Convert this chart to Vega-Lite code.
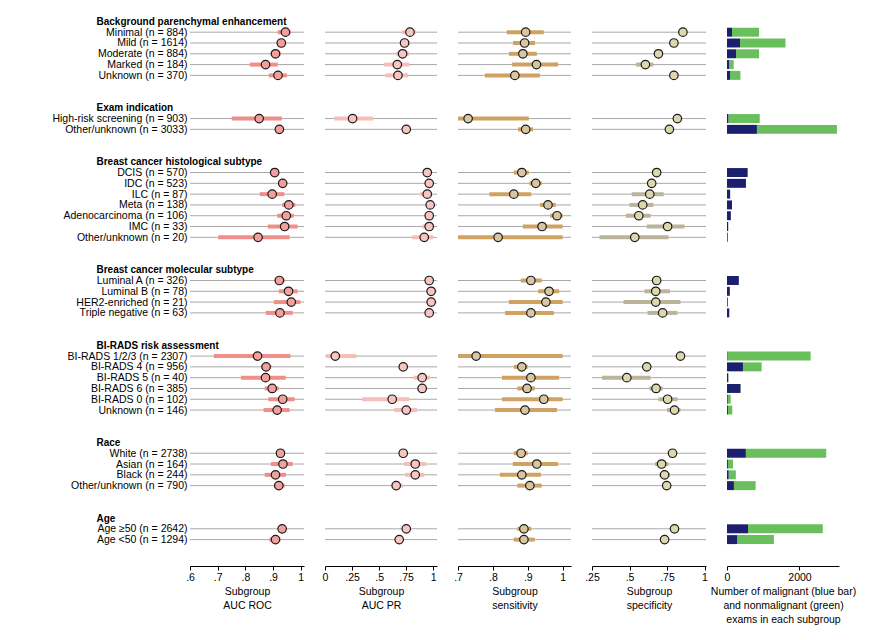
{
"$schema": "https://vega.github.io/schema/vega-lite/v6.json",
"padding": {"left": 51, "top": 16, "right": 5, "bottom": 5},
"bounds": "flush",
"spacing": 21,
"config": {
  "font": "Liberation Sans",
  "view": {"stroke": null},
  "axis": {"labelColor": "#000", "titleColor": "#000", "domainColor": "#000", "tickColor": "#000", "labelFontSize": 10.5, "titleFontSize": 10.5, "titleFontWeight": "normal", "grid": false},
  "axisX": {"offset": 21, "tickSize": 4, "labelPadding": 2, "titlePadding": 4, "labelFlush": false, "domainWidth": 1, "titleLineHeight": 14}
},
"data": {"values": [
{"label":"Minimal (n = 884)","roc":0.945,"rl":0.917,"rh":0.964,"pr":0.785,"pl":0.711,"ph":0.840,"se":0.894,"sl":0.840,"sh":0.946,"sp":0.856,"spl":0.848,"sph":0.864,"mal":138,"n":884},
{"label":"Mild (n = 1614)","roc":0.930,"rl":0.918,"rh":0.942,"pr":0.735,"pl":0.695,"ph":0.788,"se":0.891,"sl":0.858,"sh":0.921,"sp":0.796,"spl":0.789,"sph":0.803,"mal":358,"n":1614},
{"label":"Moderate (n = 884)","roc":0.909,"rl":0.892,"rh":0.928,"pr":0.717,"pl":0.658,"ph":0.778,"se":0.886,"sl":0.846,"sh":0.926,"sp":0.693,"spl":0.684,"sph":0.702,"mal":248,"n":884},
{"label":"Marked (n = 184)","roc":0.873,"rl":0.816,"rh":0.917,"pr":0.668,"pl":0.548,"ph":0.778,"se":0.925,"sl":0.855,"sh":0.987,"sp":0.606,"spl":0.542,"sph":0.659,"mal":55,"n":184},
{"label":"Unknown (n = 370)","roc":0.918,"rl":0.885,"rh":0.950,"pr":0.674,"pl":0.557,"ph":0.769,"se":0.863,"sl":0.777,"sh":0.935,"sp":0.796,"spl":0.774,"sph":0.825,"mal":83,"n":370},
{"label":"High-risk screening (n = 903)","roc":0.850,"rl":0.751,"rh":0.932,"pr":0.255,"pl":0.086,"ph":0.446,"se":0.729,"sl":0.700,"sh":0.903,"sp":0.819,"spl":0.812,"sph":0.826,"mal":37,"n":903},
{"label":"Other/unknown (n = 3033)","roc":0.923,"rl":0.914,"rh":0.932,"pr":0.751,"pl":0.735,"ph":0.767,"se":0.894,"sl":0.872,"sh":0.915,"sp":0.766,"spl":0.760,"sph":0.772,"mal":825,"n":3033},
{"label":"DCIS (n = 570)","roc":0.906,"rl":0.893,"rh":0.919,"pr":0.945,"pl":0.935,"ph":0.955,"se":0.883,"sl":0.860,"sh":0.903,"sp":0.681,"spl":0.665,"sph":0.700,"mal":570,"n":570},
{"label":"IDC (n = 523)","roc":0.935,"rl":0.925,"rh":0.945,"pr":0.963,"pl":0.955,"ph":0.971,"se":0.923,"sl":0.905,"sh":0.940,"sp":0.648,"spl":0.630,"sph":0.670,"mal":523,"n":523},
{"label":"ILC (n = 87)","roc":0.897,"rl":0.852,"rh":0.941,"pr":0.945,"pl":0.880,"ph":0.990,"se":0.860,"sl":0.790,"sh":0.910,"sp":0.635,"spl":0.515,"sph":0.728,"mal":87,"n":87},
{"label":"Meta (n = 138)","roc":0.957,"rl":0.933,"rh":0.981,"pr":0.972,"pl":0.940,"ph":0.990,"se":0.958,"sl":0.935,"sh":0.980,"sp":0.588,"spl":0.500,"sph":0.660,"mal":138,"n":138},
{"label":"Adenocarcinoma (n = 106)","roc":0.948,"rl":0.915,"rh":0.975,"pr":0.963,"pl":0.930,"ph":0.990,"se":0.984,"sl":0.964,"sh":1.0,"sp":0.562,"spl":0.476,"sph":0.641,"mal":106,"n":106},
{"label":"IMC (n = 33)","roc":0.942,"rl":0.881,"rh":0.989,"pr":0.963,"pl":0.900,"ph":0.998,"se":0.941,"sl":0.886,"sh":1.0,"sp":0.754,"spl":0.615,"sph":0.867,"mal":33,"n":33},
{"label":"Other/unknown (n = 20)","roc":0.846,"rl":0.702,"rh":0.960,"pr":0.917,"pl":0.806,"ph":1.0,"se":0.815,"sl":0.700,"sh":1.0,"sp":0.535,"spl":0.300,"sph":0.760,"mal":20,"n":20},
{"label":"Luminal A (n = 326)","roc":0.923,"rl":0.906,"rh":0.942,"pr":0.963,"pl":0.940,"ph":0.980,"se":0.909,"sl":0.880,"sh":0.940,"sp":0.681,"spl":0.650,"sph":0.710,"mal":326,"n":326},
{"label":"Luminal B (n = 78)","roc":0.956,"rl":0.921,"rh":0.989,"pr":0.981,"pl":0.950,"ph":0.995,"se":0.961,"sl":0.930,"sh":0.990,"sp":0.675,"spl":0.600,"sph":0.770,"mal":78,"n":78},
{"label":"HER2-enriched (n = 21)","roc":0.966,"rl":0.903,"rh":0.999,"pr":0.981,"pl":0.940,"ph":1.0,"se":0.952,"sl":0.846,"sh":1.0,"sp":0.675,"spl":0.460,"sph":0.840,"mal":21,"n":21},
{"label":"Triple negative (n = 63)","roc":0.925,"rl":0.874,"rh":0.971,"pr":0.963,"pl":0.930,"ph":0.990,"se":0.909,"sl":0.835,"sh":0.975,"sp":0.721,"spl":0.620,"sph":0.820,"mal":63,"n":63},
{"label":"BI-RADS 1/2/3 (n = 2307)","roc":0.844,"rl":0.686,"rh":0.963,"pr":0.095,"pl":0.010,"ph":0.290,"se":0.752,"sl":0.700,"sh":1.0,"sp":0.840,"spl":0.833,"sph":0.847,"mal":12,"n":2307},
{"label":"BI-RADS 4 (n = 956)","roc":0.875,"rl":0.857,"rh":0.894,"pr":0.723,"pl":0.680,"ph":0.760,"se":0.883,"sl":0.860,"sh":0.900,"sp":0.615,"spl":0.600,"sph":0.630,"mal":440,"n":956},
{"label":"BI-RADS 5 (n = 40)","roc":0.873,"rl":0.784,"rh":0.946,"pr":0.898,"pl":0.820,"ph":0.970,"se":0.909,"sl":0.826,"sh":0.990,"sp":0.482,"spl":0.316,"sph":0.640,"mal":35,"n":40},
{"label":"BI-RADS 6 (n = 385)","roc":0.897,"rl":0.870,"rh":0.921,"pr":0.898,"pl":0.850,"ph":0.940,"se":0.898,"sl":0.870,"sh":0.920,"sp":0.677,"spl":0.633,"sph":0.721,"mal":370,"n":385},
{"label":"BI-RADS 0 (n = 102)","roc":0.935,"rl":0.883,"rh":0.978,"pr":0.621,"pl":0.344,"ph":0.778,"se":0.946,"sl":0.826,"sh":1.0,"sp":0.754,"spl":0.693,"sph":0.820,"mal":20,"n":102},
{"label":"Unknown (n = 146)","roc":0.915,"rl":0.866,"rh":0.960,"pr":0.751,"pl":0.640,"ph":0.850,"se":0.892,"sl":0.806,"sh":0.984,"sp":0.800,"spl":0.750,"sph":0.840,"mal":25,"n":146},
{"label":"White (n = 2738)","roc":0.927,"rl":0.918,"rh":0.936,"pr":0.723,"pl":0.705,"ph":0.740,"se":0.881,"sl":0.860,"sh":0.900,"sp":0.787,"spl":0.780,"sph":0.795,"mal":520,"n":2738},
{"label":"Asian (n = 164)","roc":0.936,"rl":0.892,"rh":0.971,"pr":0.834,"pl":0.730,"ph":0.935,"se":0.926,"sl":0.857,"sh":0.987,"sp":0.714,"spl":0.670,"sph":0.760,"mal":25,"n":164},
{"label":"Black (n = 244)","roc":0.909,"rl":0.870,"rh":0.947,"pr":0.834,"pl":0.740,"ph":0.917,"se":0.883,"sl":0.820,"sh":0.938,"sp":0.734,"spl":0.700,"sph":0.770,"mal":45,"n":244},
{"label":"Other/unknown (n = 790)","roc":0.921,"rl":0.903,"rh":0.942,"pr":0.658,"pl":0.610,"ph":0.720,"se":0.906,"sl":0.870,"sh":0.940,"sp":0.748,"spl":0.720,"sph":0.770,"mal":190,"n":790},
{"label":"Age ≥50 (n = 2642)","roc":0.933,"rl":0.924,"rh":0.942,"pr":0.751,"pl":0.730,"ph":0.770,"se":0.889,"sl":0.870,"sh":0.910,"sp":0.800,"spl":0.790,"sph":0.810,"mal":580,"n":2642},
{"label":"Age <50 (n = 1294)","roc":0.909,"rl":0.887,"rh":0.927,"pr":0.686,"pl":0.640,"ph":0.720,"se":0.889,"sl":0.860,"sh":0.920,"sp":0.734,"spl":0.720,"sph":0.750,"mal":280,"n":1294}
]},
"hconcat": [
{
  "width": 114, "height": 529,
  "layer": [
    {"mark": {"type": "rule", "color": "#a8a8a8", "strokeWidth": 1},
     "encoding": {"x": {"datum": 0.6, "type": "quantitative"}, "x2": {"datum": 1.012}, "y": {"field": "label", "type": "nominal"}}},
    {"mark": {"type": "rule", "color": "#f08e8a", "strokeWidth": 4},
     "encoding": {"x": {"field": "rl", "type": "quantitative"}, "x2": {"field": "rh"}, "y": {"field": "label", "type": "nominal"}}},
    {"mark": {"type": "point", "filled": true, "fill": "#f2a09c", "stroke": "#1a1a1a", "strokeWidth": 1.2, "size": 72, "opacity": 1},
     "encoding": {"x": {"field": "roc", "type": "quantitative"}, "y": {"field": "label", "type": "nominal"}}}
  ],
  "encoding": {
    "x": {"scale": {"domain": [0.6, 1.012], "nice": false, "zero": false},
          "axis": {"values": [0.6, 0.7, 0.8, 0.9, 1], "title": ["Subgroup", "AUC ROC"], "labelExpr": "datum.value == 1 ? '1' : replace(format(datum.value, '.2~f'), '0.', '.')"}},
    "y": {"scale": {"type": "point", "padding": 0.5, "domain": ["Background parenchymal enhancement","Minimal (n = 884)","Mild (n = 1614)","Moderate (n = 884)","Marked (n = 184)","Unknown (n = 370)"," ","  ","Exam indication","High-risk screening (n = 903)","Other/unknown (n = 3033)","   ","    ","Breast cancer histological subtype","DCIS (n = 570)","IDC (n = 523)","ILC (n = 87)","Meta (n = 138)","Adenocarcinoma (n = 106)","IMC (n = 33)","Other/unknown (n = 20)","     ","      ","Breast cancer molecular subtype","Luminal A (n = 326)","Luminal B (n = 78)","HER2-enriched (n = 21)","Triple negative (n = 63)","       ","        ","BI-RADS risk assessment","BI-RADS 1/2/3 (n = 2307)","BI-RADS 4 (n = 956)","BI-RADS 5 (n = 40)","BI-RADS 6 (n = 385)","BI-RADS 0 (n = 102)","Unknown (n = 146)","         ","          ","Race","White (n = 2738)","Asian (n = 164)","Black (n = 244)","Other/unknown (n = 790)","           ","            ","Age","Age ≥50 (n = 2642)","Age <50 (n = 1294)"]},
          "axis": {"title": null, "domain": false, "ticks": false, "labelLimit": 0,
                   "labelFontSize": {"condition": {"test": "indexof(['Background parenchymal enhancement','Exam indication','Breast cancer histological subtype','Breast cancer molecular subtype','BI-RADS risk assessment','Race','Age'], datum.value) >= 0", "value": 10}, "value": 10.5},
                   "labelAlign": {"condition": {"test": "indexof(['Background parenchymal enhancement','Exam indication','Breast cancer histological subtype','Breast cancer molecular subtype','BI-RADS risk assessment','Race','Age'], datum.value) >= 0", "value": "left"}, "value": "right"},
                   "labelFontWeight": {"condition": {"test": "indexof(['Background parenchymal enhancement','Exam indication','Breast cancer histological subtype','Breast cancer molecular subtype','BI-RADS risk assessment','Race','Age'], datum.value) >= 0", "value": "bold"}, "value": "normal"},
                   "labelPadding": {"condition": {"test": "indexof(['Background parenchymal enhancement','Exam indication','Breast cancer histological subtype','Breast cancer molecular subtype','BI-RADS risk assessment','Race','Age'], datum.value) >= 0", "value": 94}, "value": 3}
                   }}
  }
},
{
  "width": 112, "height": 529,
  "layer": [
    {"mark": {"type": "rule", "color": "#a8a8a8", "strokeWidth": 1},
     "encoding": {"x": {"datum": 0, "type": "quantitative"}, "x2": {"datum": 1.035}, "y": {"field": "label", "type": "nominal"}}},
    {"mark": {"type": "rule", "color": "#f9bcb6", "strokeWidth": 4},
     "encoding": {"x": {"field": "pl", "type": "quantitative"}, "x2": {"field": "ph"}, "y": {"field": "label", "type": "nominal"}}},
    {"mark": {"type": "point", "filled": true, "fill": "#f8c6c2", "stroke": "#1a1a1a", "strokeWidth": 1.2, "size": 72, "opacity": 1},
     "encoding": {"x": {"field": "pr", "type": "quantitative"}, "y": {"field": "label", "type": "nominal"}}}
  ],
  "encoding": {
    "x": {"scale": {"domain": [0, 1.035], "nice": false, "zero": false},
          "axis": {"values": [0, 0.25, 0.5, 0.75, 1], "title": ["Subgroup", "AUC PR"], "labelExpr": "datum.value == 1 ? '1' : datum.value == 0 ? '0' : replace(format(datum.value, '.2~f'), '0.', '.')"}},
    "y": {"scale": {"type": "point", "padding": 0.5, "domain": ["Background parenchymal enhancement","Minimal (n = 884)","Mild (n = 1614)","Moderate (n = 884)","Marked (n = 184)","Unknown (n = 370)"," ","  ","Exam indication","High-risk screening (n = 903)","Other/unknown (n = 3033)","   ","    ","Breast cancer histological subtype","DCIS (n = 570)","IDC (n = 523)","ILC (n = 87)","Meta (n = 138)","Adenocarcinoma (n = 106)","IMC (n = 33)","Other/unknown (n = 20)","     ","      ","Breast cancer molecular subtype","Luminal A (n = 326)","Luminal B (n = 78)","HER2-enriched (n = 21)","Triple negative (n = 63)","       ","        ","BI-RADS risk assessment","BI-RADS 1/2/3 (n = 2307)","BI-RADS 4 (n = 956)","BI-RADS 5 (n = 40)","BI-RADS 6 (n = 385)","BI-RADS 0 (n = 102)","Unknown (n = 146)","         ","          ","Race","White (n = 2738)","Asian (n = 164)","Black (n = 244)","Other/unknown (n = 790)","           ","            ","Age","Age ≥50 (n = 2642)","Age <50 (n = 1294)"]}, "axis": null}
  }
},
{
  "width": 113, "height": 529,
  "layer": [
    {"mark": {"type": "rule", "color": "#a8a8a8", "strokeWidth": 1},
     "encoding": {"x": {"datum": 0.7, "type": "quantitative"}, "x2": {"datum": 1.024}, "y": {"field": "label", "type": "nominal"}}},
    {"mark": {"type": "rule", "color": "#cfa262", "strokeWidth": 4},
     "encoding": {"x": {"field": "sl", "type": "quantitative"}, "x2": {"field": "sh"}, "y": {"field": "label", "type": "nominal"}}},
    {"mark": {"type": "point", "filled": true, "fill": "#d8c6a2", "stroke": "#1a1a1a", "strokeWidth": 1.2, "size": 72, "opacity": 1},
     "encoding": {"x": {"field": "se", "type": "quantitative"}, "y": {"field": "label", "type": "nominal"}}}
  ],
  "encoding": {
    "x": {"scale": {"domain": [0.7, 1.024], "nice": false, "zero": false},
          "axis": {"values": [0.7, 0.8, 0.9, 1], "title": ["Subgroup", "sensitivity"], "labelExpr": "datum.value == 1 ? '1' : replace(format(datum.value, '.2~f'), '0.', '.')"}},
    "y": {"scale": {"type": "point", "padding": 0.5, "domain": ["Background parenchymal enhancement","Minimal (n = 884)","Mild (n = 1614)","Moderate (n = 884)","Marked (n = 184)","Unknown (n = 370)"," ","  ","Exam indication","High-risk screening (n = 903)","Other/unknown (n = 3033)","   ","    ","Breast cancer histological subtype","DCIS (n = 570)","IDC (n = 523)","ILC (n = 87)","Meta (n = 138)","Adenocarcinoma (n = 106)","IMC (n = 33)","Other/unknown (n = 20)","     ","      ","Breast cancer molecular subtype","Luminal A (n = 326)","Luminal B (n = 78)","HER2-enriched (n = 21)","Triple negative (n = 63)","       ","        ","BI-RADS risk assessment","BI-RADS 1/2/3 (n = 2307)","BI-RADS 4 (n = 956)","BI-RADS 5 (n = 40)","BI-RADS 6 (n = 385)","BI-RADS 0 (n = 102)","Unknown (n = 146)","         ","          ","Race","White (n = 2738)","Asian (n = 164)","Black (n = 244)","Other/unknown (n = 790)","           ","            ","Age","Age ≥50 (n = 2642)","Age <50 (n = 1294)"]}, "axis": null}
  }
},
{
  "width": 114, "height": 529,
  "layer": [
    {"mark": {"type": "rule", "color": "#a8a8a8", "strokeWidth": 1},
     "encoding": {"x": {"datum": 0.25, "type": "quantitative"}, "x2": {"datum": 1.01}, "y": {"field": "label", "type": "nominal"}}},
    {"mark": {"type": "rule", "color": "#bab59a", "strokeWidth": 4},
     "encoding": {"x": {"field": "spl", "type": "quantitative"}, "x2": {"field": "sph"}, "y": {"field": "label", "type": "nominal"}}},
    {"mark": {"type": "point", "filled": true, "fill": "#dcd7ad", "stroke": "#1a1a1a", "strokeWidth": 1.2, "size": 72, "opacity": 1},
     "encoding": {"x": {"field": "sp", "type": "quantitative"}, "y": {"field": "label", "type": "nominal"}}}
  ],
  "encoding": {
    "x": {"scale": {"domain": [0.25, 1.01], "nice": false, "zero": false},
          "axis": {"values": [0.25, 0.5, 0.75, 1], "title": ["Subgroup", "specificity"], "labelExpr": "datum.value == 1 ? '1' : replace(format(datum.value, '.2~f'), '0.', '.')"}},
    "y": {"scale": {"type": "point", "padding": 0.5, "domain": ["Background parenchymal enhancement","Minimal (n = 884)","Mild (n = 1614)","Moderate (n = 884)","Marked (n = 184)","Unknown (n = 370)"," ","  ","Exam indication","High-risk screening (n = 903)","Other/unknown (n = 3033)","   ","    ","Breast cancer histological subtype","DCIS (n = 570)","IDC (n = 523)","ILC (n = 87)","Meta (n = 138)","Adenocarcinoma (n = 106)","IMC (n = 33)","Other/unknown (n = 20)","     ","      ","Breast cancer molecular subtype","Luminal A (n = 326)","Luminal B (n = 78)","HER2-enriched (n = 21)","Triple negative (n = 63)","       ","        ","BI-RADS risk assessment","BI-RADS 1/2/3 (n = 2307)","BI-RADS 4 (n = 956)","BI-RADS 5 (n = 40)","BI-RADS 6 (n = 385)","BI-RADS 0 (n = 102)","Unknown (n = 146)","         ","          ","Race","White (n = 2738)","Asian (n = 164)","Black (n = 244)","Other/unknown (n = 790)","           ","            ","Age","Age ≥50 (n = 2642)","Age <50 (n = 1294)"]}, "axis": null}
  }
},
{
  "width": 112, "height": 529,
  "layer": [
    {"mark": {"type": "bar", "color": "#69bf5b"},
     "encoding": {"x": {"field": "mal", "type": "quantitative"}, "x2": {"field": "n"}, "y": {"field": "label", "type": "nominal"}}},
    {"mark": {"type": "bar", "color": "#1b1f6e"},
     "encoding": {"x": {"field": "mal", "type": "quantitative", "stack": null}, "y": {"field": "label", "type": "nominal"}}}
  ],
  "encoding": {
    "x": {"scale": {"domain": [0, 3090], "nice": false},
          "axis": {"values": [0, 2000], "format": "d", "title": ["Number of malignant (blue bar)", "and nonmalignant (green)", "exams in each subgroup"]}},
    "y": {"scale": {"type": "band", "paddingInner": 0.17, "paddingOuter": 0.085, "domain": ["Background parenchymal enhancement","Minimal (n = 884)","Mild (n = 1614)","Moderate (n = 884)","Marked (n = 184)","Unknown (n = 370)"," ","  ","Exam indication","High-risk screening (n = 903)","Other/unknown (n = 3033)","   ","    ","Breast cancer histological subtype","DCIS (n = 570)","IDC (n = 523)","ILC (n = 87)","Meta (n = 138)","Adenocarcinoma (n = 106)","IMC (n = 33)","Other/unknown (n = 20)","     ","      ","Breast cancer molecular subtype","Luminal A (n = 326)","Luminal B (n = 78)","HER2-enriched (n = 21)","Triple negative (n = 63)","       ","        ","BI-RADS risk assessment","BI-RADS 1/2/3 (n = 2307)","BI-RADS 4 (n = 956)","BI-RADS 5 (n = 40)","BI-RADS 6 (n = 385)","BI-RADS 0 (n = 102)","Unknown (n = 146)","         ","          ","Race","White (n = 2738)","Asian (n = 164)","Black (n = 244)","Other/unknown (n = 790)","           ","            ","Age","Age ≥50 (n = 2642)","Age <50 (n = 1294)"]}, "axis": null}
  }
}
],
"resolve": {"scale": {"x": "independent", "y": "independent"}}
}
